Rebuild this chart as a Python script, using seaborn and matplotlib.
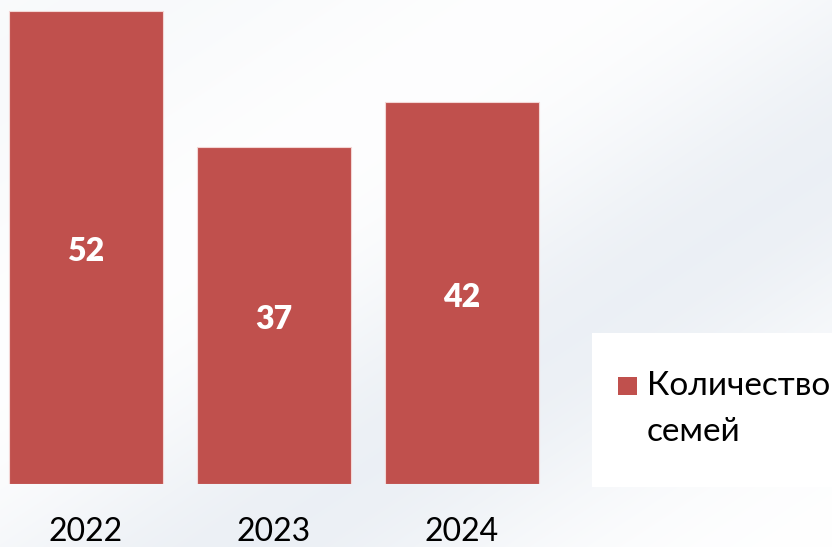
import numpy as np
import pandas as pd
import matplotlib
matplotlib.use("Agg")
import matplotlib.pyplot as plt
import seaborn as sns
from matplotlib.patches import Rectangle

years = ["2022", "2023", "2024"]
families = [52, 37, 42]
bar_color = "#C0504D"

sns.set_theme(style="white")
plt.rcParams["font.family"] = ["Lato", "DejaVu Sans"]

W, H = 832, 547
fig = plt.figure(figsize=(W / 100, H / 100), dpi=100)

# soft diagonal light background
bg = fig.add_axes([0, 0, 1, 1], zorder=0)
yy, xx = np.mgrid[0:H, 0:W]
s = xx / W + yy / H
shade = (0.35 * np.exp(-((s - 0.15) / 0.35) ** 2)
         + 1.0 * np.exp(-((s - 1.3) / 0.35) ** 2))
shade = np.clip(shade, 0, 1)
white = np.array([1.0, 1.0, 1.0])
gray = np.array([0.925, 0.941, 0.961])
img = white[None, None, :] * (1 - shade[..., None]) + gray[None, None, :] * shade[..., None]
bg.imshow(img, aspect="auto", extent=[0, W, H, 0])
bg.set_xlim(0, W)
bg.set_ylim(H, 0)
bg.axis("off")

# white legend panel
bg.add_patch(Rectangle((592, 333), W - 592, 154, facecolor="white", edgecolor="none"))

ax = fig.add_axes([0, (H - 484) / H, 1, 484 / H], zorder=1)
ax.patch.set_alpha(0)
df = pd.DataFrame({"year": years, "value": families})
sns.barplot(data=df, x="year", y="value", color=bar_color, saturation=1,
            width=0.82, edgecolor="#F3D6D5", linewidth=0.8, ax=ax)

px_per_unit_x = 188.0
ax.set_xlim(-86 / px_per_unit_x, (W - 86) / px_per_unit_x)
ax.set_ylim(0, 484 / 9.1)

for i, v in enumerate(families):
    ax.annotate(str(v), xy=(i, v / 2), xytext=(0, -3), textcoords="offset points",
                ha="center", va="center", color="white",
                fontsize=23, fontweight="heavy")

ax.set_xlabel("")
ax.set_ylabel("")
ax.set_yticks([])
ax.tick_params(axis="x", length=0, pad=24, labelsize=23, labelcolor="black")
sns.despine(ax=ax, left=True, bottom=True)

# legend entry
fig.patches.append(Rectangle((618 / W, 1 - 395 / H), 19 / W, 18 / H,
                             transform=fig.transFigure, facecolor=bar_color,
                             edgecolor="none", zorder=3))
fig.text(647 / W, 1 - 386 / H, "Количество", fontsize=24, color="black",
         ha="left", va="center")
fig.text(647 / W, 1 - 432 / H, "семей", fontsize=24, color="black",
         ha="left", va="center")

fig.savefig("out.png", dpi=100)
